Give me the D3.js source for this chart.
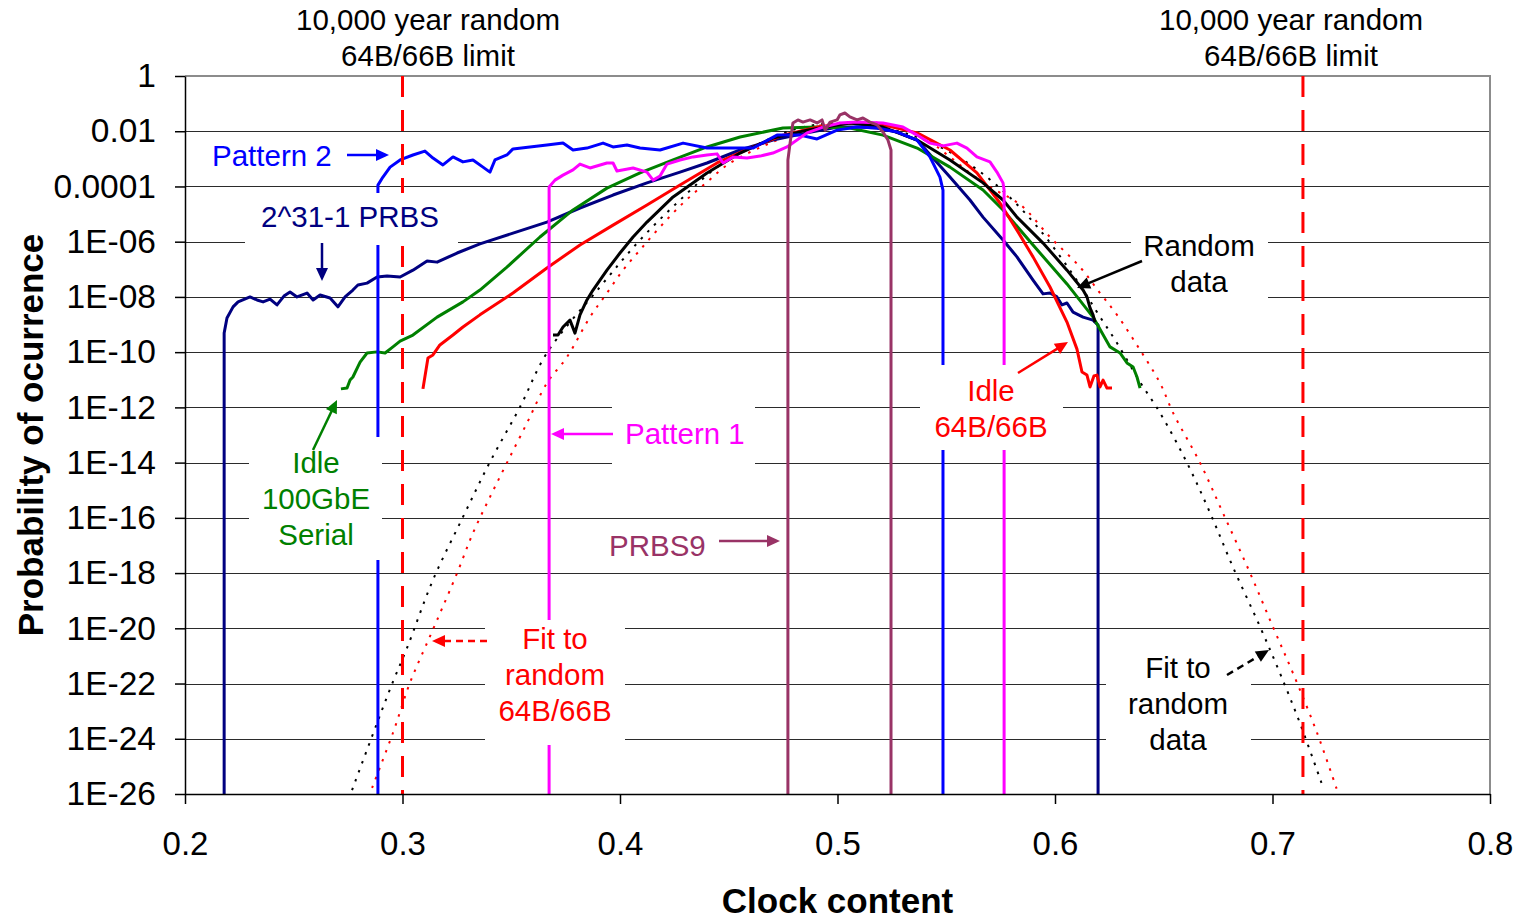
<!DOCTYPE html>
<html>
<head>
<meta charset="utf-8">
<script src="https://cdn.jsdelivr.net/npm/d3@7"></script>
<style>
  body { margin: 0; background: #fff; }
  text { font-family: "Liberation Sans", Arial, sans-serif; }
</style>
</head>
<body>
<svg id="chart" width="1521" height="919"></svg>
<script>
// axis ticks (y values are log10 of the probability)
const xTicks = [0.2, 0.3, 0.4, 0.5, 0.6, 0.7, 0.8];
const xTickLabels = ["0.2", "0.3", "0.4", "0.5", "0.6", "0.7", "0.8"];
const yTicks = [0, -2, -4, -6, -8, -10, -12, -14, -16, -18, -20, -22, -24, -26];
const yTickLabels = ["1", "0.01", "0.0001", "1E-06", "1E-08", "1E-10", "1E-12", "1E-14",
                     "1E-16", "1E-18", "1E-20", "1E-22", "1E-24", "1E-26"];

// 10,000 year limits
const limits = [0.3, 0.714];

// series: [clock content, log10(probability)], -26 = dropped to the axis
const prbs31 = [[0.218,-26],[0.218,-9.31],[0.2193,-8.76],[0.2221,-8.36],[0.2244,-8.18],[0.2299,-8.0],[0.2331,-8.11],[0.2359,-8.18],[0.2391,-8.08],[0.2423,-8.29],[0.2455,-7.97],[0.2483,-7.82],[0.2515,-8.0],[0.2561,-7.86],[0.2589,-8.11],[0.2621,-7.93],[0.2667,-8.04],[0.2703,-8.36],[0.2736,-8.0],[0.2772,-7.75],[0.2795,-7.57],[0.2837,-7.5],[0.2883,-7.28],[0.2929,-7.24],[0.2989,-7.28],[0.3048,-7.03],[0.3113,-6.7],[0.3159,-6.74],[0.3251,-6.41],[0.3356,-6.08],[0.3508,-5.69],[0.3664,-5.29],[0.3816,-4.78],[0.3968,-4.31],[0.4124,-3.87],[0.4276,-3.48],[0.44,-3.15],[0.4552,-2.68],[0.4703,-2.32],[0.486,-2.06],[0.5002,-1.85],[0.5103,-1.85],[0.5182,-1.88],[0.5274,-2.03],[0.5366,-2.32],[0.5439,-2.97],[0.5517,-3.66],[0.5609,-4.49],[0.5669,-5.11],[0.5761,-5.94],[0.5825,-6.55],[0.5899,-7.39],[0.5945,-7.89],[0.5977,-7.86],[0.6009,-8.0],[0.6032,-8.29],[0.6055,-8.22],[0.6083,-8.55],[0.6129,-8.73],[0.6175,-8.84],[0.6198,-9.02],[0.6198,-26]];

const pattern2 = [[0.2887,-26],[0.2887,-3.95],[0.291,-3.66],[0.2943,-3.3],[0.2989,-3.04],[0.3048,-2.86],[0.3103,-2.72],[0.314,-2.97],[0.3186,-3.22],[0.3232,-2.93],[0.3278,-3.11],[0.3324,-3.04],[0.337,-3.3],[0.3402,-3.48],[0.3425,-3.04],[0.348,-2.86],[0.3508,-2.64],[0.3586,-2.57],[0.3664,-2.5],[0.3738,-2.43],[0.3784,-2.68],[0.3848,-2.61],[0.3922,-2.43],[0.3968,-2.57],[0.4032,-2.5],[0.4092,-2.61],[0.4184,-2.68],[0.429,-2.43],[0.44,-2.61],[0.4506,-2.61],[0.4611,-2.61],[0.4722,-2.14],[0.4828,-2.14],[0.4906,-2.28],[0.4998,-1.96],[0.509,-1.85],[0.5182,-1.88],[0.5274,-2.03],[0.5366,-2.32],[0.5425,-2.93],[0.5471,-3.66],[0.5485,-4.13],[0.5485,-26]];

const idle100 = [[0.2717,-11.33],[0.2745,-11.3],[0.2759,-11.01],[0.2772,-10.9],[0.2805,-10.36],[0.2837,-10.03],[0.2883,-9.99],[0.292,-10.03],[0.2956,-9.81],[0.2989,-9.6],[0.3048,-9.38],[0.3159,-8.73],[0.3278,-8.18],[0.3356,-7.75],[0.348,-6.92],[0.3632,-5.83],[0.3784,-4.85],[0.394,-4.06],[0.4092,-3.51],[0.4244,-3.04],[0.44,-2.57],[0.4552,-2.21],[0.4749,-1.88],[0.4906,-1.85],[0.5057,-1.88],[0.5209,-2.14],[0.5366,-2.61],[0.5517,-3.3],[0.5669,-4.13],[0.5761,-4.85],[0.5899,-6.12],[0.6055,-7.53],[0.6175,-8.73],[0.6253,-9.81],[0.6299,-10.03],[0.6331,-10.39],[0.6359,-10.54],[0.6377,-10.9],[0.6391,-11.3]];

const idle6466 = [[0.3094,-11.33],[0.3117,-10.21],[0.314,-10.1],[0.3172,-9.74],[0.3232,-9.38],[0.3278,-9.09],[0.3356,-8.65],[0.3508,-7.86],[0.3664,-6.95],[0.3816,-6.12],[0.3968,-5.4],[0.4124,-4.67],[0.4276,-3.95],[0.4446,-3.15],[0.4598,-2.61],[0.4749,-2.14],[0.4906,-1.85],[0.5057,-1.7],[0.5209,-1.77],[0.5366,-2.06],[0.5517,-2.68],[0.5641,-3.51],[0.5747,-4.6],[0.5825,-5.58],[0.5899,-6.55],[0.5977,-7.64],[0.6055,-8.91],[0.6101,-9.89],[0.6124,-10.72],[0.6147,-10.83],[0.6161,-11.26],[0.6179,-10.86],[0.6193,-10.83],[0.6207,-11.26],[0.6221,-11.01],[0.6239,-11.3],[0.6262,-11.3]];

const pattern1 = [[0.3674,-26],[0.3674,-4.02],[0.3701,-3.77],[0.3738,-3.59],[0.3784,-3.4],[0.3816,-3.19],[0.3862,-3.33],[0.394,-3.15],[0.3968,-3.15],[0.3986,-3.44],[0.406,-3.33],[0.4124,-3.48],[0.4152,-3.77],[0.4184,-3.62],[0.4216,-3.19],[0.4276,-3.04],[0.4336,-2.93],[0.44,-2.86],[0.4446,-2.82],[0.4474,-3.15],[0.452,-2.93],[0.4584,-2.97],[0.4644,-2.9],[0.4703,-2.79],[0.4768,-2.57],[0.486,-2.06],[0.4933,-1.85],[0.5011,-1.7],[0.509,-1.67],[0.5209,-1.7],[0.5301,-1.85],[0.5366,-2.14],[0.5425,-2.43],[0.5485,-2.53],[0.5549,-2.43],[0.5595,-2.61],[0.5641,-2.93],[0.5701,-3.11],[0.5733,-3.48],[0.5761,-3.87],[0.5766,-4.13],[0.5766,-26]];

const randomData = [[0.3692,-9.38],[0.3715,-9.38],[0.3738,-9.09],[0.377,-8.84],[0.3793,-9.31],[0.3816,-8.65],[0.3848,-8.11],[0.3876,-7.75],[0.394,-7.03],[0.4,-6.41],[0.406,-5.83],[0.4124,-5.29],[0.4244,-4.38],[0.44,-3.51],[0.4552,-2.79],[0.4703,-2.25],[0.486,-1.96],[0.5057,-1.7],[0.5209,-1.85],[0.5366,-2.32],[0.5517,-3.04],[0.5669,-3.87],[0.5761,-4.49],[0.5825,-5.11],[0.5945,-6.05],[0.6055,-7.03],[0.6129,-7.75],[0.6147,-8.0],[0.6161,-8.4],[0.6175,-8.65],[0.6184,-8.91]];

const prbs9 = [[0.4772,-26],[0.4772,-3.04],[0.4782,-2.43],[0.4795,-1.7],[0.4818,-1.59],[0.4841,-1.67],[0.4874,-1.59],[0.4906,-1.7],[0.4929,-1.59],[0.4943,-1.96],[0.4966,-1.67],[0.4998,-1.59],[0.5011,-1.41],[0.5034,-1.34],[0.5057,-1.48],[0.509,-1.59],[0.5117,-1.52],[0.5149,-1.67],[0.5182,-1.77],[0.5209,-2.03],[0.5232,-2.32],[0.5246,-2.68],[0.5246,-26]];

const fitRandom = [[0.2768,-25.86],[0.2883,-23.43],[0.2956,-21.94],[0.3021,-20.71],[0.314,-18.25],[0.3278,-15.97],[0.3402,-13.98],[0.354,-11.99],[0.3664,-10.03],[0.3908,-7.64],[0.4092,-5.94],[0.4276,-4.49],[0.446,-3.22],[0.4644,-2.43],[0.4828,-1.88],[0.5011,-1.7],[0.5195,-1.85],[0.5379,-2.25],[0.5563,-2.97],[0.5747,-4.06],[0.5931,-5.58],[0.6115,-7.57],[0.6193,-8.55],[0.6285,-9.67],[0.6391,-11.08],[0.6483,-12.2],[0.6607,-14.01],[0.6713,-15.82],[0.6818,-17.78],[0.6943,-19.95],[0.7034,-21.62],[0.7126,-23.43],[0.7232,-25.75]];

const fit6466 = [[0.286,-25.78],[0.2956,-23.79],[0.3034,-21.98],[0.3113,-20.53],[0.3159,-19.7],[0.3251,-18.0],[0.3324,-16.55],[0.3402,-15.25],[0.348,-14.01],[0.3572,-12.57],[0.3664,-11.12],[0.3756,-10.18],[0.3862,-8.73],[0.394,-7.86],[0.4014,-7.03],[0.4092,-6.3],[0.4184,-5.47],[0.429,-4.6],[0.44,-3.84],[0.4506,-3.15],[0.469,-2.43],[0.4874,-1.88],[0.5057,-1.67],[0.5241,-1.77],[0.5411,-2.32],[0.5517,-2.93],[0.5609,-3.51],[0.5701,-4.02],[0.5793,-4.42],[0.5853,-4.74],[0.5977,-5.83],[0.6115,-6.92],[0.6207,-7.86],[0.6285,-8.65],[0.6391,-9.92],[0.6483,-11.12],[0.6543,-12.2],[0.6667,-14.01],[0.6772,-15.82],[0.6897,-18.0],[0.7002,-19.95],[0.7094,-21.62],[0.7205,-23.79],[0.7297,-25.86]];

const svg = d3.select("#chart");
const margin = { top: 76, right: 31, bottom: 125, left: 185 };
const width = 1521 - margin.left - margin.right;
const height = 919 - margin.top - margin.bottom;

const x = d3.scaleLinear().domain([0.2, 0.8]).range([margin.left, margin.left + width]);
const y = d3.scaleLog().domain([1e-26, 1]).range([margin.top + height, margin.top]);
const yv = e => y(Math.pow(10, e));

// gridlines
svg.append("g").selectAll("line")
  .data(yTicks.slice(1, -1))
  .enter().append("line")
  .attr("x1", x(0.2)).attr("x2", x(0.8))
  .attr("y1", d => Math.round(yv(d)) + 0.5).attr("y2", d => Math.round(yv(d)) + 0.5)
  .attr("stroke", "#2b2b2b").attr("stroke-width", 1);

// plot border (top and right)
svg.append("path")
  .attr("d", `M${x(0.2)},${yv(0)}H${x(0.8)}V${yv(-26)}`)
  .attr("fill", "none").attr("stroke", "#8c8c8c").attr("stroke-width", 2);

const line = d3.line().x(d => x(d[0])).y(d => yv(d[1]));
const smooth = d3.line().x(d => x(d[0])).y(d => yv(d[1])).curve(d3.curveCatmullRom);

// fitted curves
svg.append("path").datum(fitRandom).attr("d", smooth)
  .attr("fill", "none").attr("stroke", "#000").attr("stroke-width", 2).attr("stroke-dasharray", "2.5,7");
svg.append("path").datum(fit6466).attr("d", smooth)
  .attr("fill", "none").attr("stroke", "#ff0000").attr("stroke-width", 2).attr("stroke-dasharray", "2.5,7");

// measured data
const series = [
  { data: prbs31, color: "#000080" },
  { data: idle100, color: "#008000" },
  { data: idle6466, color: "#ff0000" },
  { data: randomData, color: "#000000" },
  { data: pattern2, color: "#0000ff" },
  { data: pattern1, color: "#ff00ff" },
  { data: prbs9, color: "#993366" }
];
svg.append("g").selectAll("path")
  .data(series)
  .enter().append("path")
  .attr("d", d => line(d.data))
  .attr("fill", "none")
  .attr("stroke", d => d.color)
  .attr("stroke-width", 3)
  .attr("stroke-linejoin", "round");

// 10,000 year limit lines
svg.append("g").selectAll("line")
  .data(limits)
  .enter().append("line")
  .attr("x1", d => x(d)).attr("x2", d => x(d))
  .attr("y1", yv(0)).attr("y2", yv(-26))
  .attr("stroke", "#ff0000").attr("stroke-width", 3).attr("stroke-dasharray", "21,13");

// white boxes behind the labels
const boxes = [[245, 193, 213, 52], [1131, 222, 137, 78], [920, 365, 143, 85],
               [612, 395, 143, 75], [249, 437, 133, 123], [485, 620, 140, 125], [1106, 651, 145, 109]];
svg.append("g").selectAll("rect")
  .data(boxes)
  .enter().append("rect")
  .attr("x", d => d[0]).attr("y", d => d[1]).attr("width", d => d[2]).attr("height", d => d[3])
  .attr("fill", "#fff");

// axes
const yAxis = d3.axisLeft(y)
  .tickValues(yTicks.map(e => Math.pow(10, e)))
  .tickFormat((d, i) => yTickLabels[i])
  .tickSize(10).tickSizeOuter(0).tickPadding(19);
const gy = svg.append("g").attr("transform", `translate(${margin.left},0)`).call(yAxis);
gy.selectAll("text").style("font-size", "33.5px").attr("fill", "#000");
gy.selectAll("line, path").attr("stroke", "#000").attr("stroke-width", 1.5);

const xAxis = d3.axisBottom(x)
  .tickValues(xTicks)
  .tickFormat((d, i) => xTickLabels[i])
  .tickSize(10).tickSizeOuter(0).tickPadding(28);
const gx = svg.append("g").attr("transform", `translate(0,${margin.top + height})`).call(xAxis);
gx.selectAll("text").style("font-size", "33px").attr("fill", "#000");
gx.selectAll("line, path").attr("stroke", "#000").attr("stroke-width", 1.5);

// axis titles
svg.append("text")
  .attr("x", x(0.5)).attr("y", 913)
  .attr("text-anchor", "middle")
  .style("font-size", "35px").style("font-weight", "bold")
  .text("Clock content");
svg.append("text")
  .attr("transform", `translate(43,${(margin.top + margin.top + height) / 2}) rotate(-90)`)
  .attr("text-anchor", "middle")
  .style("font-size", "35px").style("font-weight", "bold")
  .text("Probability of ocurrence");

// labels
const labels = [
  { lines: ["10,000 year random", "64B/66B limit"], x: 428, y: 30, color: "#000", anchor: "middle" },
  { lines: ["10,000 year random", "64B/66B limit"], x: 1291, y: 30, color: "#000", anchor: "middle" },
  { lines: ["Pattern 2"], x: 212, y: 166, color: "#0000ff", anchor: "start" },
  { lines: ["2^31-1 PRBS"], x: 261, y: 227, color: "#000080", anchor: "start" },
  { lines: ["Random", "data"], x: 1199, y: 256, color: "#000", anchor: "middle" },
  { lines: ["Idle", "64B/66B"], x: 991, y: 401, color: "#ff0000", anchor: "middle" },
  { lines: ["Pattern 1"], x: 625, y: 444, color: "#ff00ff", anchor: "start" },
  { lines: ["PRBS9"], x: 609, y: 556, color: "#993366", anchor: "start" },
  { lines: ["Idle", "100GbE", "Serial"], x: 316, y: 473, color: "#008000", anchor: "middle" },
  { lines: ["Fit to", "random", "64B/66B"], x: 555, y: 649, color: "#ff0000", anchor: "middle" },
  { lines: ["Fit to", "random", "data"], x: 1178, y: 678, color: "#000", anchor: "middle" }
];
labels.forEach(l => {
  const t = svg.append("text")
    .attr("text-anchor", l.anchor)
    .attr("fill", l.color)
    .style("font-size", "29.5px");
  l.lines.forEach((s, i) => {
    t.append("tspan").attr("x", l.x).attr("y", l.y + i * 36).text(s);
  });
});

// arrows
const arrows = [
  { from: [347, 155], to: [389, 155], color: "#0000ff" },
  { from: [322, 243], to: [322, 281], color: "#000080" },
  { from: [1142, 261], to: [1077, 288], color: "#000" },
  { from: [1018, 373], to: [1068, 342], color: "#ff0000" },
  { from: [613, 434], to: [551, 434], color: "#ff00ff" },
  { from: [719, 541], to: [780, 541], color: "#993366" },
  { from: [313, 450], to: [337, 400], color: "#008000" },
  { from: [487, 641], to: [432, 641], color: "#ff0000", dash: "7,5" },
  { from: [1227, 675], to: [1269, 650], color: "#000", dash: "7,5" }
];
arrows.forEach(a => {
  const dx = a.to[0] - a.from[0], dy = a.to[1] - a.from[1];
  const len = Math.sqrt(dx * dx + dy * dy);
  const ux = dx / len, uy = dy / len;
  const head = 13, half = 6;
  const bx = a.to[0] - ux * head, by = a.to[1] - uy * head;
  svg.append("line")
    .attr("x1", a.from[0]).attr("y1", a.from[1]).attr("x2", bx + ux).attr("y2", by + uy)
    .attr("stroke", a.color).attr("stroke-width", 2.5)
    .attr("stroke-dasharray", a.dash || null);
  svg.append("path")
    .attr("d", `M${a.to[0]},${a.to[1]}L${bx - uy * half},${by + ux * half}L${bx + uy * half},${by - ux * half}Z`)
    .attr("fill", a.color);
});
</script>
</body>
</html>
